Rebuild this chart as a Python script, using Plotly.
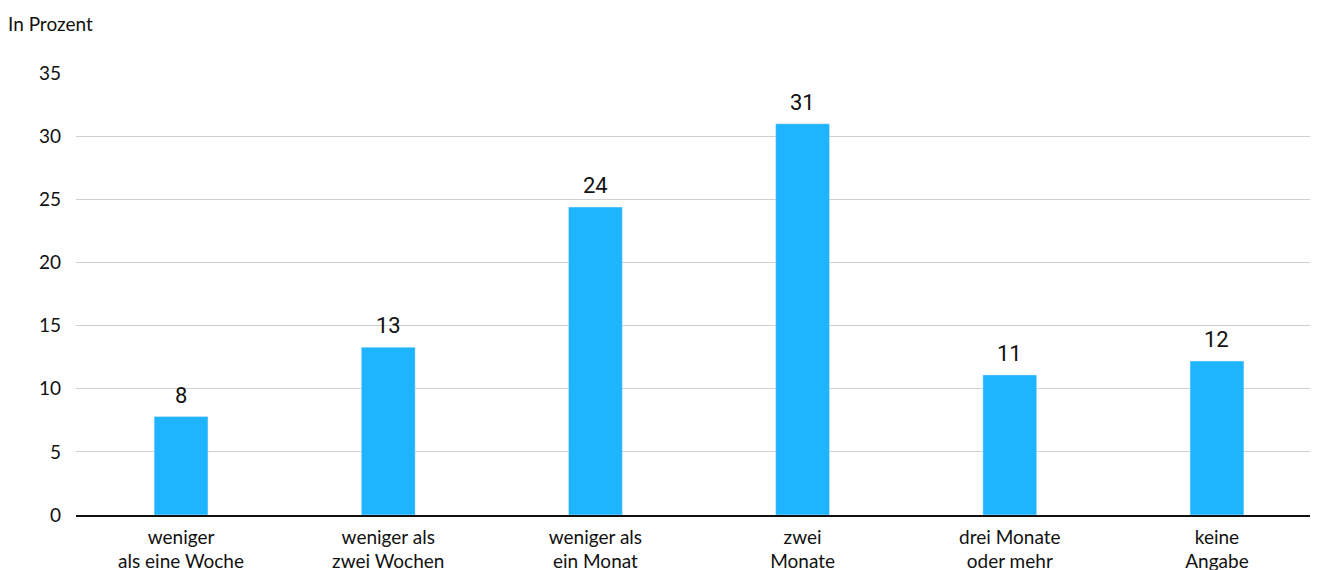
import plotly.graph_objects as go

categories = ["weniger<br>als eine Woche", "weniger als<br>zwei Wochen", "weniger als<br>ein Monat",
              "zwei<br>Monate", "drei Monate<br>oder mehr", "keine<br>Angabe"]
values = [7.8, 13.3, 24.4, 31.0, 11.1, 12.2]
labels = ["8", "13", "24", "31", "11", "12"]
y_ticks = [0, 5, 10, 15, 20, 25, 30, 35]

fig = go.Figure()
fig.add_trace(go.Bar(x=categories, y=values, marker_color="#1FB4FF", width=0.26,
                     hoverinfo="skip"))

for c, v, t in zip(categories, values, labels):
    fig.add_annotation(x=c, y=v, text=t, showarrow=False, yanchor="bottom", yshift=7,
                       font=dict(family="Roboto", size=22, color="#111"))

fig.add_annotation(text="In Prozent", xref="paper", yref="paper", x=0, xshift=-70, y=1,
                   yshift=36, xanchor="left", yanchor="bottom", showarrow=False,
                   font=dict(family="Lato", size=19, color="#111"))

fig.update_layout(
    width=1325, height=570,
    margin=dict(l=76, r=15, t=73, b=55),
    plot_bgcolor="white", paper_bgcolor="white",
    showlegend=False,
    font=dict(family="Lato", size=19, color="#111"),
)
fig.update_yaxes(range=[0, 35.02], tickvals=y_ticks, showgrid=True, gridcolor="#d0d0d0",
                 gridwidth=1, zeroline=False, ticklabelstandoff=14, fixedrange=True,
                 automargin=False)
fig.update_xaxes(range=[-0.507, 5.449], showline=True, linecolor="#111", linewidth=1.5,
                 ticks="", ticklabelstandoff=4, fixedrange=True, automargin=False)

fig.write_html("out.html")
